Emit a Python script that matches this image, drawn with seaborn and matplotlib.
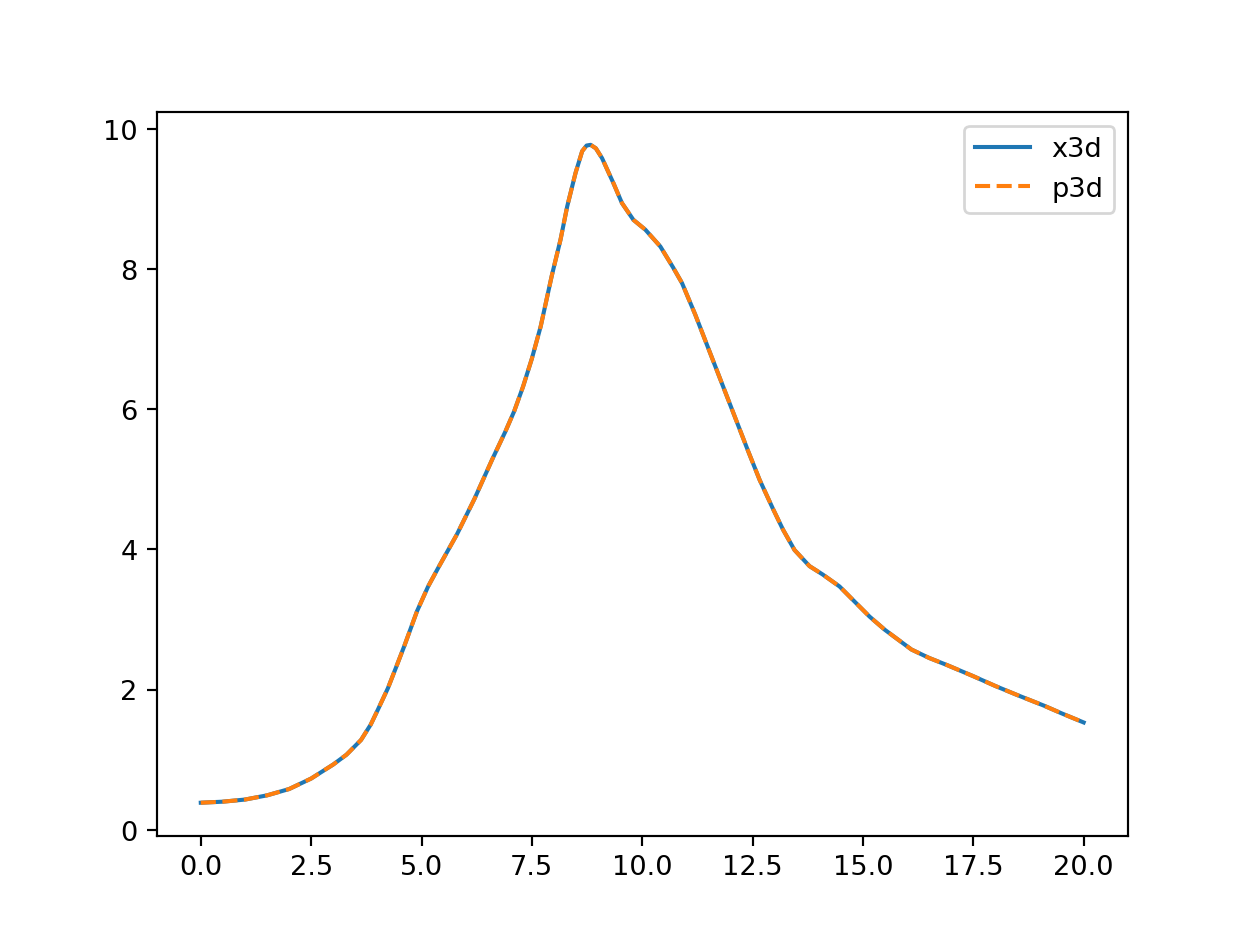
import matplotlib
matplotlib.use("Agg")
import matplotlib.pyplot as plt
import seaborn as sns
import numpy as np
import pandas as pd

x_vals = [0.0, 0.5, 1.0, 1.5, 2.0, 2.5, 3.0, 3.3, 3.63, 3.85, 4.01, 4.24,
          4.42, 4.61, 4.9, 5.15, 5.4, 5.8, 6.2, 6.6, 6.9, 7.1, 7.3, 7.5,
          7.7, 7.95, 8.15, 8.3, 8.49, 8.64, 8.74, 8.83, 8.95, 9.09, 9.35,
          9.54, 9.8, 10.07, 10.41, 10.7, 10.9, 11.2, 11.6, 12.0, 12.4, 12.66,
          12.96, 13.19, 13.45, 13.79, 14.09, 14.47, 14.77, 15.15, 15.5, 16.1,
          16.5, 16.9, 17.5, 18.0, 18.5, 19.1, 19.5, 20.0]
x3d_vals = [0.385, 0.40, 0.43, 0.49, 0.58, 0.73, 0.93, 1.07, 1.28, 1.5, 1.71,
            2.02, 2.31, 2.62, 3.12, 3.47, 3.76, 4.21, 4.72, 5.28, 5.68, 5.97,
            6.32, 6.72, 7.18, 7.9, 8.42, 8.89, 9.37, 9.68, 9.76, 9.77, 9.72,
            9.58, 9.22, 8.94, 8.70, 8.56, 8.32, 8.02, 7.8, 7.35, 6.7, 6.05,
            5.4, 4.99, 4.58, 4.28, 3.99, 3.76, 3.64, 3.47, 3.28, 3.04, 2.85,
            2.57, 2.45, 2.35, 2.19, 2.05, 1.92, 1.77, 1.66, 1.53]
p3d_vals = list(x3d_vals)

df = pd.DataFrame({"x": x_vals, "x3d": x3d_vals, "p3d": p3d_vals})

fig, ax = plt.subplots(figsize=(6.4, 4.8), dpi=195.8)
sns.lineplot(data=df, x="x", y="x3d", ax=ax, color="#1f77b4", label="x3d",
             linewidth=1.5)
sns.lineplot(data=df, x="x", y="p3d", ax=ax, color="#ff7f0e", label="p3d",
             linewidth=1.5, linestyle="--")
ax.set_xlabel("")
ax.set_ylabel("")
ax.set_xticks([0, 2.5, 5, 7.5, 10, 12.5, 15, 17.5, 20])
ax.set_yticks([0, 2, 4, 6, 8, 10])
ax.legend(loc="upper right")
fig.savefig("out.png", dpi=195.8)
